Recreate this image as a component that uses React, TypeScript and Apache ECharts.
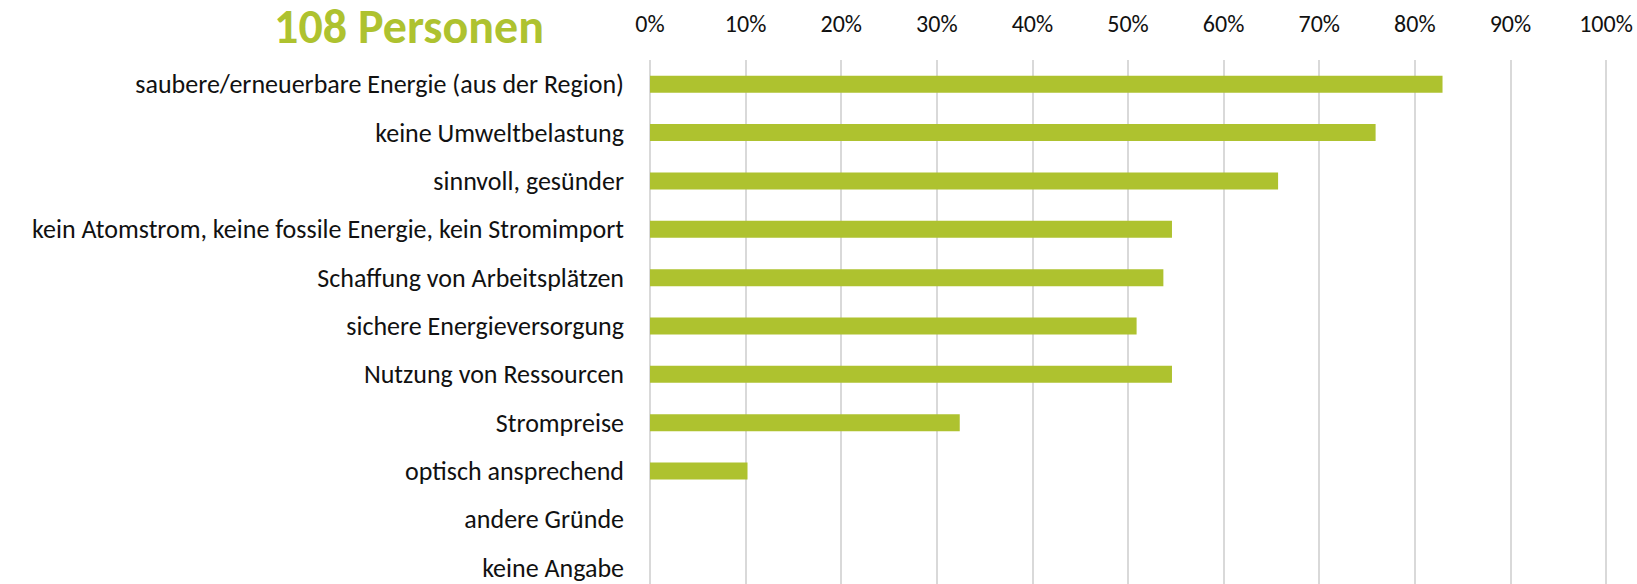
import React, { useEffect, useRef } from "react";
import * as echarts from "echarts";

const categories = [
  "saubere/erneuerbare Energie (aus der Region)",
  "keine Umweltbelastung",
  "sinnvoll, gesünder",
  "kein Atomstrom, keine fossile Energie, kein Stromimport",
  "Schaffung von Arbeitsplätzen",
  "sichere Energieversorgung",
  "Nutzung von Ressourcen",
  "Strompreise",
  "optisch ansprechend",
  "andere Gründe",
  "keine Angabe",
];
const values = [82.9, 75.9, 65.7, 54.6, 53.7, 50.9, 54.6, 32.4, 10.2, 0, 0];
const titleText = "108 Personen";
const GREEN = "#AEC22F";
const FONT = "Carlito, 'Open Sans', sans-serif";

export default function App() {
  const ref = useRef<HTMLDivElement>(null);
  useEffect(() => {
    const chart = echarts.init(ref.current!, null, { renderer: "svg" });
    chart.setOption({
      animation: false,
      grid: { left: 650, right: 31, top: 60, height: 532 },
      xAxis: {
        type: "value",
        position: "top",
        min: 0,
        max: 100,
        interval: 10,
        axisLine: { show: false },
        axisTick: { show: false },
        axisLabel: {
          formatter: "{value}%",
          color: "#111",
          fontSize: 24,
          fontFamily: FONT,
          margin: 25,
        },
        splitLine: { lineStyle: { color: "#d9d9d9", width: 2 } },
      },
      yAxis: {
        type: "category",
        data: categories,
        inverse: true,
        axisLine: { show: false },
        axisTick: { show: false },
        axisLabel: {
          color: "#111",
          fontSize: 26,
          fontFamily: FONT,
          margin: 26,
        },
      },
      series: [
        {
          type: "bar",
          data: values,
          barWidth: 17,
          itemStyle: { color: GREEN },
        },
      ],
      graphic: [
        {
          type: "text",
          x: 544,
          y: 26,
          style: {
            text: titleText,
            fill: GREEN,
            font: `bold 48px ${FONT}`,
            lineHeight: 44,
            textAlign: "right",
            textVerticalAlign: "middle",
          },
        },
      ],
    });
    return () => chart.dispose();
  }, []);
  return (
    <div
      ref={ref}
      style={{ position: "absolute", left: 0, top: 0, width: 1637, height: 600 }}
    />
  );
}
